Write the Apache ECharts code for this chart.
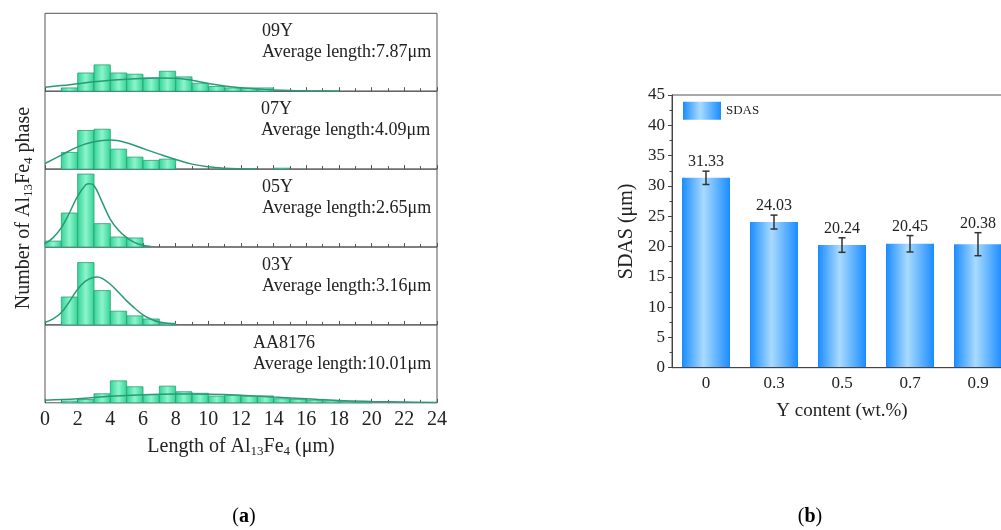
<!DOCTYPE html>
<html><head><meta charset="utf-8">
<script src="https://cdn.jsdelivr.net/npm/echarts@6/dist/echarts.min.js"></script>
<style>html,body{margin:0;padding:0;background:#fff;overflow:hidden;width:1001px;height:530px}#c{width:1020px;height:530px}</style>
</head><body><div id="c"></div>
<script>
const FONT = '"Liberation Serif", "Times New Roman", serif';

// ---------- Panel (a): length distributions of Al13Fe4 (frequency %, bins of 1 µm from 0) ----------
const sampleNames = ['09Y', '07Y', '05Y', '03Y', 'AA8176'];
const avgLengths = ['7.87', '4.09', '2.65', '3.16', '10.01'];
const hist09Y = [0, 2.1, 11.7, 16.9, 11.7, 10.9, 8.5, 12.8, 9.2, 5.1, 3.0, 2.1, 2.1, 2.1];
const hist07Y = [0, 10.7, 24.8, 25.6, 12.8, 7.7, 5.6, 6.4, 0, 0, 0, 0, 0, 0, 0.6];
const hist05Y = [3.8, 21.8, 46.8, 15.0, 6.4, 5.8];
const hist03Y = [0, 17.9, 40.0, 22.0, 8.8, 5.8, 3.8, 1.1];
const histAA8176 = [0, 1.1, 2.1, 5.8, 14.1, 10.3, 5.3, 10.7, 7.1, 6.1, 4.3, 4.8, 4.2, 4.4, 2.6, 2.2, 1.7, 1.3, 0.8, 0.4];
// fitted distribution curves [length, frequency]
const fit09Y = [[0,2.6],[1,3.6],[2,4.8],[3,6.0],[4,7.0],[5,7.7],[6,8.2],[7,8.5],[8,8.3],[9,7.0],[10,5.0],[11,3.4],[12,2.2],[13,1.4],[14,0.8],[15,0.4],[16,0.2],[17,0.1],[18,0]];
const fit07Y = [[0,3.6],[1,9.0],[2,14.3],[3,17.5],[4,18.6],[5,16.9],[6,13.2],[7,9.6],[8,6.2],[9,3.2],[10,1.5],[11,0.6],[12,0.2],[13,0]];
const fit05Y = [[0,2.1],[0.5,6.0],[1,12.4],[1.5,22.0],[2,32.7],[2.5,40.0],[2.7,40.6],[3,39.5],[3.5,28.8],[4,17.7],[4.5,10.7],[5,6.0],[5.5,2.8],[6,1.1],[6.5,0.3]];
const fit03Y = [[0,1.5],[0.5,3.8],[1,7.9],[1.5,15.0],[2,22.9],[2.5,28.2],[3,30.6],[3.2,30.8],[3.5,29.9],[4,26.1],[4.5,20.9],[5,15.4],[5.5,10.7],[6,6.4],[6.5,3.6],[7,1.9],[8,0.4]];
const fitAA8176 = [[0,1.7],[2,2.6],[4,4.2],[6,5.2],[8,5.6],[10,5.5],[12,4.9],[14,3.7],[16,2.6],[18,1.5],[20,0.9],[22,0.5],[24,0.2]];

// ---------- Panel (b): SDAS ----------
const yContent = ['0', '0.3', '0.5', '0.7', '0.9'];
const sdas = [31.33, 24.03, 20.24, 20.45, 20.38];
const sdasErr = [1.1, 1.15, 1.2, 1.35, 1.9];

const hists = [hist09Y, hist07Y, hist05Y, hist03Y, histAA8176];
const fits = [fit09Y, fit07Y, fit05Y, fit03Y, fitAA8176];

// layout
const PT = 13.3, PH = 77.9, PL = 45, PW = 392;
const textX = [262, 261, 262, 262, 253];

const green = new echarts.graphic.LinearGradient(0, 0, 1, 0, [
  {offset: 0, color: '#30d494'}, {offset: 0.5, color: '#8ef4cd'}, {offset: 1, color: '#30d494'}]);
const blue = new echarts.graphic.LinearGradient(0, 0, 1, 0, [
  {offset: 0, color: '#1a8cff'}, {offset: 0.45, color: '#a9daff'}, {offset: 1, color: '#1a8cff'}]);

const subRich = {
  a: {fontSize: 20, fontFamily: FONT, color: '#222', lineHeight: 22},
  s: {fontSize: 13, fontFamily: FONT, color: '#222', verticalAlign: 'bottom', lineHeight: 8}
};

const grids = [], xAxes = [], yAxes = [], series = [], graphics = [];
for (let i = 0; i < 5; i++) {
  const top = PT + i * PH;
  grids.push({left: PL, width: PW, top: top, height: PH, show: true, borderColor: '#555', borderWidth: 1});
  xAxes.push({
    gridIndex: i, type: 'value', min: 0, max: 24, interval: 2,
    axisLine: {show: false},
    axisTick: {show: true, inside: true, length: 4, lineStyle: {color: '#555'}},
    minorTick: {show: true, splitNumber: 2, length: 3, lineStyle: {color: '#555'}},
    splitLine: {show: false}, minorSplitLine: {show: false},
    axisLabel: {show: i === 4, margin: 7, fontSize: 20, fontFamily: FONT, color: '#222'},
    name: i === 4 ? '{a|Length of Al}{s|13}{a|Fe}{s|4}{a| (μm)}' : '',
    nameLocation: 'middle', nameGap: 33,
    nameTextStyle: {rich: subRich}
  });
  yAxes.push({
    gridIndex: i, type: 'value', min: 0, max: 50,
    axisLine: {show: false}, axisTick: {show: false}, axisLabel: {show: false}, splitLine: {show: false},
    name: i === 2 ? '{a|Number of Al}{s|13}{a|Fe}{s|4}{a| phase}' : '',
    nameLocation: 'middle', nameGap: 10,
    nameTextStyle: {rich: subRich}
  });
  const data = [];
  hists[i].forEach((v, k) => { if (v > 0) data.push([k, k + 1, v]); });
  series.push({
    type: 'custom', xAxisIndex: i, yAxisIndex: i, data: data, encode: {x: [0, 1], y: 2}, z: 2,
    renderItem: function (params, api) {
      const p0 = api.coord([api.value(0), api.value(2)]);
      const p1 = api.coord([api.value(1), 0]);
      return {type: 'rect', shape: {x: p0[0], y: p0[1], width: p1[0] - p0[0], height: p1[1] - p0[1]},
        style: {fill: green, stroke: '#2c9f77', lineWidth: 0.8}};
    }
  });
  series.push({
    type: 'line', xAxisIndex: i, yAxisIndex: i, data: fits[i], smooth: 0.4, showSymbol: false, z: 3,
    lineStyle: {color: '#2a9a74', width: 1.5}
  });
  graphics.push({type: 'text', x: textX[i], y: top + 18, style: {text: sampleNames[i], fontSize: 18, fontFamily: FONT, fill: '#222', align: 'left', verticalAlign: 'middle'}});
  graphics.push({type: 'text', x: textX[i], y: top + 39, style: {text: 'Average length:' + avgLengths[i] + 'μm', fontSize: 18, fontFamily: FONT, fill: '#222', align: 'left', verticalAlign: 'middle'}});
}

// panel b
grids.push({left: 672, top: 95, width: 340, height: 272.7, show: true, borderColor: '#555', borderWidth: 1});
xAxes.push({
  gridIndex: 5, type: 'category', data: yContent, z: 3,
  axisLine: {lineStyle: {color: '#444'}},
  axisTick: {inside: true, alignWithLabel: true, length: 4, lineStyle: {color: '#444'}},
  axisLabel: {margin: 7, fontSize: 17, fontFamily: FONT, color: '#222'},
  name: 'Y content (wt.%)', nameLocation: 'middle', nameGap: 34,
  nameTextStyle: {fontSize: 19, fontFamily: FONT, color: '#222'}
});
yAxes.push({
  gridIndex: 5, type: 'value', min: 0, max: 45, interval: 5,
  axisLine: {show: true, lineStyle: {color: '#444'}},
  axisTick: {show: true, length: 4, lineStyle: {color: '#444'}},
  minorTick: {show: true, splitNumber: 2, length: 2.5, lineStyle: {color: '#444'}},
  splitLine: {show: false}, minorSplitLine: {show: false},
  axisLabel: {margin: 7, fontSize: 17, fontFamily: FONT, color: '#222'},
  name: 'SDAS (μm)', nameLocation: 'middle', nameGap: 35,
  nameTextStyle: {fontSize: 20, fontFamily: FONT, color: '#222'}
});
series.push({
  type: 'bar', name: 'SDAS', xAxisIndex: 5, yAxisIndex: 5, data: sdas, barWidth: 48,
  itemStyle: {color: blue}
});
series.push({
  type: 'custom', xAxisIndex: 5, yAxisIndex: 5, z: 5,
  data: sdas.map((v, i) => [i, v, sdasErr[i]]), encode: {x: 0, y: 1},
  renderItem: function (params, api) {
    const i = api.value(0), v = api.value(1), e = api.value(2);
    const t = api.coord([i, v + e]), b = api.coord([i, v - e]);
    const x = t[0], cw = 3.5, st = {stroke: '#333', lineWidth: 1.5};
    return {type: 'group', children: [
      {type: 'line', shape: {x1: x, y1: t[1], x2: x, y2: b[1]}, style: st},
      {type: 'line', shape: {x1: x - cw, y1: t[1], x2: x + cw, y2: t[1]}, style: st},
      {type: 'line', shape: {x1: x - cw, y1: b[1], x2: x + cw, y2: b[1]}, style: st},
      {type: 'text', x: x, y: t[1] - 1, style: {text: v.toFixed(2), fontSize: 16, fontFamily: FONT, fill: '#222', align: 'center', verticalAlign: 'bottom'}}
    ]};
  }
});

const capRich = {p: {fontSize: 20, fontFamily: FONT, color: '#000'}, b: {fontSize: 20, fontFamily: FONT, fontWeight: 'bold', color: '#000'}};
graphics.push({type: 'text', x: 244, y: 517, style: {text: '{p|(}{b|a}{p|)}', rich: capRich, align: 'center', verticalAlign: 'middle'}});
graphics.push({type: 'text', x: 810, y: 517, style: {text: '{p|(}{b|b}{p|)}', rich: capRich, align: 'center', verticalAlign: 'middle'}});

const chart = echarts.init(document.getElementById('c'), null, {renderer: 'canvas'});
chart.setOption({
  animation: false,
  backgroundColor: '#fff',
  grid: grids, xAxis: xAxes, yAxis: yAxes, series: series,
  legend: {data: ['SDAS'], left: 683, top: 101.7, padding: 0, itemWidth: 38, itemHeight: 18, icon: 'rect',
    textStyle: {fontSize: 13, fontFamily: FONT, color: '#222'}},
  graphic: graphics
});
</script></body></html>
